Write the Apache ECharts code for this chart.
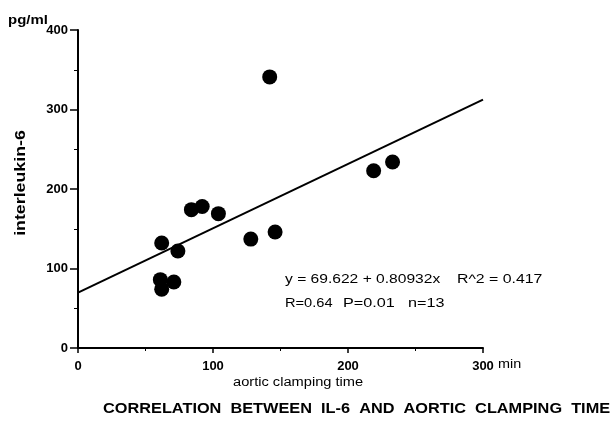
<!DOCTYPE html>
<html>
<head>
<meta charset="utf-8">
<script src="https://cdn.jsdelivr.net/npm/echarts@6/dist/echarts.min.js"></script>
<style>
  html, body { margin: 0; padding: 0; background: #fff; }
  #chart { width: 613px; height: 421px; }
</style>
</head>
<body>
<div id="chart"></div>
<script>
// Aortic clamping time (min) and interleukin-6 (pg/ml) per patient
var clampTime = [142, 219, 233, 84, 92, 104, 62, 74, 128, 146, 61, 62, 71];
var il6 = [341, 223, 234, 174, 178, 169, 132, 122, 137, 146, 86, 74, 83];

// Least-squares fit reported on the chart
var intercept = 69.622;
var slope = 0.80932;
var fitRange = [0, 300];

var xTicks = [0, 100, 200, 300];
var yTicks = [0, 100, 200, 300, 400];

var points = clampTime.map(function (t, i) { return [t, il6[i]]; });
var fitLine = fitRange.map(function (x) { return [x, intercept + slope * x]; });

var font = '"Liberation Sans", Arial, Helvetica, sans-serif';
var black = '#000';

// Wide, tracked lettering like the original typesetting
function label(text, x, y, opts) {
  opts = opts || {};
  return {
    type: 'text',
    x: x,
    y: y,
    rotation: opts.rotation || 0,
    scaleX: opts.scaleX || 1,
    style: {
      text: text,
      fontFamily: font,
      fontSize: opts.size || 12,
      fontWeight: opts.bold ? 'bold' : 'normal',
      fill: black,
      textAlign: opts.align || 'left',
      textVerticalAlign: 'middle'
    }
  };
}

var chart = echarts.init(document.getElementById('chart'));

chart.setOption({
  animation: false,
  backgroundColor: '#fff',
  grid: { left: 78, top: 30, right: 130, bottom: 73 },
  xAxis: {
    type: 'value',
    min: xTicks[0],
    max: xTicks[xTicks.length - 1],
    interval: 100,
    axisLine: { lineStyle: { color: black, width: 2 } },
    axisTick: { length: 5, lineStyle: { color: black, width: 1.5 } },
    minorTick: { show: true, splitNumber: 2, length: 3, lineStyle: { color: black } },
    axisLabel: { fontFamily: font, fontSize: 13, fontWeight: 'bold', color: black, margin: 12 },
    splitLine: { show: false }
  },
  yAxis: {
    type: 'value',
    min: yTicks[0],
    max: yTicks[yTicks.length - 1],
    interval: 100,
    axisLine: { lineStyle: { color: black, width: 2 } },
    axisTick: { length: 8, lineStyle: { color: black, width: 1.5 } },
    minorTick: { show: true, splitNumber: 2, length: 4, lineStyle: { color: black } },
    axisLabel: { fontFamily: font, fontSize: 13, fontWeight: 'bold', color: black, margin: 10 },
    splitLine: { show: false }
  },
  graphic: [
    label('pg/ml', 8, 20, { size: 13, bold: true, scaleX: 1.15 }),
    label('interleukin-6', 21, 183, { size: 14, bold: true, align: 'center', rotation: Math.PI / 2, scaleX: 1.27 }),
    label('min', 498, 365, { size: 12, scaleX: 1.2 }),
    label('aortic clamping time', 233, 383, { size: 12, scaleX: 1.22 }),
    label('y = 69.622 + 0.80932x', 285, 280, { size: 12, scaleX: 1.3 }),
    label('R^2 = 0.417', 457, 280, { size: 12, scaleX: 1.32 }),
    label('R=0.64', 285, 304, { size: 12, scaleX: 1.22 }),
    label('P=0.01', 343, 304, { size: 12, scaleX: 1.35 }),
    label('n=13', 408, 304, { size: 12, scaleX: 1.35 }),
    label('CORRELATION  BETWEEN  IL-6  AND  AORTIC  CLAMPING  TIME', 103, 409, { size: 14, bold: true, scaleX: 1.165 })
  ],
  series: [
    {
      type: 'line',
      data: fitLine,
      symbol: 'none',
      lineStyle: { color: black, width: 2 },
      z: 2
    },
    {
      type: 'scatter',
      data: points,
      symbol: 'circle',
      symbolSize: 15,
      itemStyle: { color: black, opacity: 1 },
      z: 3
    }
  ]
});
</script>
</body>
</html>
